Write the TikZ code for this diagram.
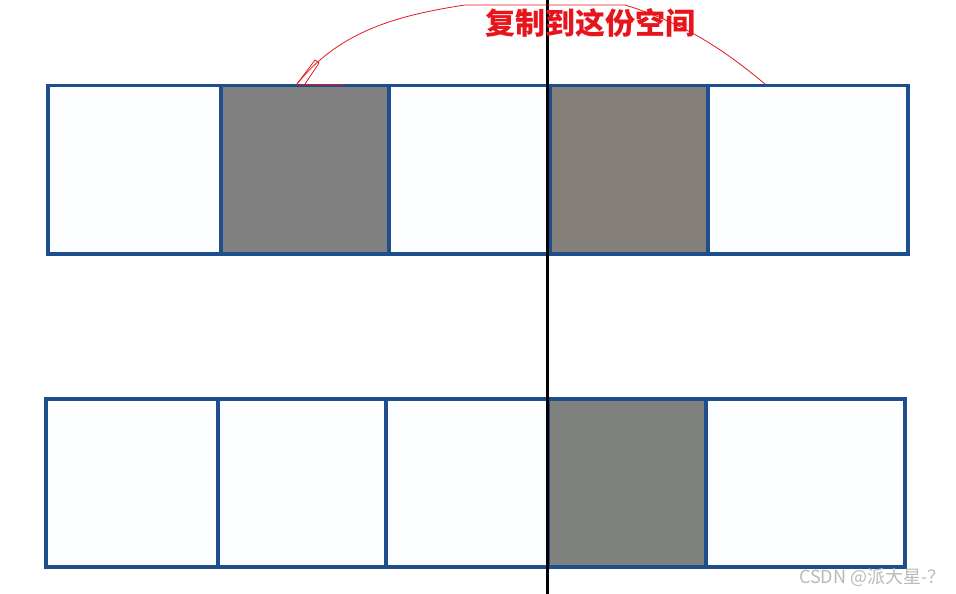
\documentclass[tikz,border=0pt]{standalone}
\usepackage{fontspec}
\newfontfamily\cjk{Noto Sans CJK SC}
\usetikzlibrary{calc}
\definecolor{cellblue}{HTML}{1F4E8C}
\definecolor{cellwhite}{HTML}{FCFDFF}
\definecolor{cellgray}{HTML}{808080}
\definecolor{cellgrayb}{HTML}{857F7C}
\definecolor{cellgrayc}{HTML}{7F817F}
\definecolor{markred}{HTML}{E8141C}
\begin{document}
\begin{tikzpicture}[x=1pt,y=-1pt,
    cell/.style={draw=cellblue,line width=3.5pt,anchor=north west,inner sep=0pt,minimum height=168pt},
    divider/.style={black,line width=3pt},
    copyline/.style={markred,line width=0.8pt},
    note/.style={markred,font=\cjk\bfseries\fontsize{30}{32}\selectfont}]
  \useasboundingbox (0,0) rectangle (956,594);
  % upper row
  \foreach \name/\x/\w/\c in {a1/46/173/cellwhite,a2/219/168/cellgray,a3/387/161/cellwhite,a4/548/158/cellgrayb,a5/706/200/cellwhite} {
    \node[cell,fill=\c,minimum width=\w] (\name) at (\x,84) {};
  }
  % lower row
  \foreach \name/\x/\w/\c in {b1/44/172/cellwhite,b2/216/168/cellwhite,b3/384/162/cellwhite,b4/546/158/cellgrayc,b5/704/199/cellwhite} {
    \node[cell,fill=\c,minimum width=\w] (\name) at (\x,397) {};
  }
  % split line
  \coordinate (top) at (547,0);
  \coordinate (bottom) at (547,594);
  \draw[divider] (top) -- (bottom);
  % copy mark
  \coordinate (from) at ($(a2.north west)+(78,0)$);
  \coordinate (to) at ($(a5.north west)+(59,0)$);
  \draw[copyline] (from) .. controls (340,30) and (400,15) .. (465,5) -- (625,5)
    .. controls (690,25) and (730,55) .. (to);
  \draw[copyline] (from) -- ++(18,-24) -- ++(4,3) -- ++(-14,21);
  \draw[copyline] (from) -- ++(48,0);
  \node[note] (label) at (590,23) {复制到这份空间};
  \node[text=gray!55,font=\cjk\fontsize{18}{20}\selectfont,anchor=east] (wm) at (949,578) {CSDN @派大星-？};
\end{tikzpicture}
\end{document}
